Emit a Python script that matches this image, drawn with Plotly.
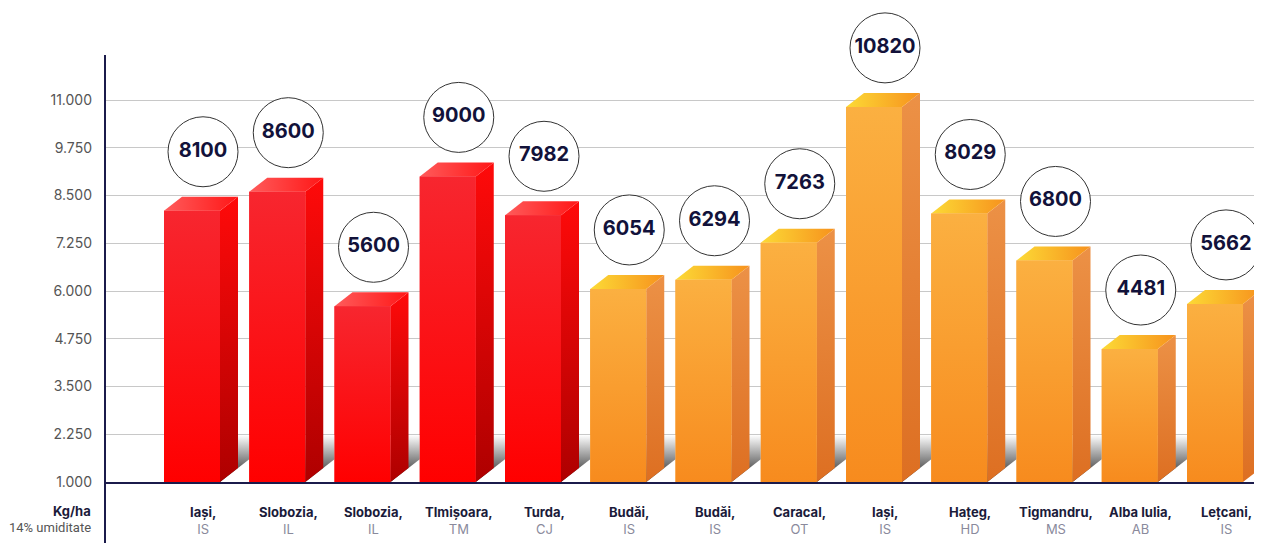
import plotly.graph_objects as go

# ---------------- data ----------------
cities = ["Iași,", "Slobozia,", "Slobozia,", "TImișoara,", "Turda,", "Budăi,", "Budăi,",
          "Caracal,", "Iași,", "Hațeg,", "Tigmandru,", "Alba Iulia,", "Lețcani,"]
counties = ["IS", "IL", "IL", "TM", "CJ", "IS", "IS", "OT", "IS", "HD", "MS", "AB", "IS"]
yields = [8100, 8600, 5600, 9000, 7982, 6054, 6294, 7263, 10820, 8029, 6800, 4481, 5662]
groups = ["red"] * 5 + ["orange"] * 8
tick_vals = [1000, 2250, 3500, 4750, 6000, 7250, 8500, 9750, 11000]

# ---------------- geometry (pixel based, converted through the axis scale) -------------
W, H = 1262, 543
OFF = 8                      # page body margin offset
ML, MR, MT = 105 - OFF, OFF, 0
axis_px = 482 - OFF          # x-axis position inside the figure
MB = H - axis_px
plot_h = axis_px - MT
plot_w = W - ML - MR
px_per_cat = 85.25
first_center_px = 192 - 105
px_per_unit = 0.0382
y0 = 1000
y_top = y0 + plot_h / px_per_unit
x_lo = -first_center_px / px_per_cat
x_hi = x_lo + plot_w / px_per_cat

bar_w = 56 / px_per_cat
dx = 18 / px_per_cat
dy = 14 / px_per_unit
label_shift = 11 / px_per_cat
circle_off = 59 / px_per_unit
shadow_top = 2230

palette = {
    "red": dict(front=("#FF0000", "#F7262F"), side=("#AE0000", "#FF0A0A"),
                top=("#FF5B5B", "#FF1717"), bar="#F91A24"),
    "orange": dict(front=("#F78B1E", "#FBB041"), side=("#DD6F22", "#EC9146"),
                   top=("#FCDA36", "#F7921D"), bar="#F9A030"),
}

fig = go.Figure()
xs = list(range(len(yields)))

# base bars (front faces)
fig.add_trace(go.Bar(x=xs, y=[v - y0 for v in yields], base=y0, width=bar_w,
                     marker=dict(color=[palette[g]["bar"] for g in groups], line=dict(width=0)),
                     hoverinfo="skip", showlegend=False))

def poly(xp, yp, colors, gtype):
    fig.add_trace(go.Scatter(
        x=xp + [xp[0]], y=yp + [yp[0]], mode="lines", fill="toself",
        line=dict(width=0), hoverinfo="skip", showlegend=False,
        fillgradient=dict(type=gtype, colorscale=[[0, colors[0]], [1, colors[1]]])))

# shadows between bars
for i in range(len(yields) - 1):
    xr = i + bar_w / 2
    xn = (i + 1) - bar_w / 2
    ydiag = y0 + (xn - xr) * dy / dx
    poly([xr, xn, xn, xr], [y0, ydiag, shadow_top, shadow_top],
         ("#1c1c1c", "#ffffff"), "vertical")

# side, top and front gradient faces
for i, (v, g) in enumerate(zip(yields, groups)):
    p = palette[g]
    xl = i - bar_w / 2
    xr = i + bar_w / 2
    poly([xr, xr, xr + dx, xr + dx], [y0, v, v + dy, y0 + dy], p["side"], "vertical")
    poly([xl, xl + dx, xr + dx, xr], [v, v + dy, v + dy, v], p["top"], "horizontal")
    poly([xl, xl, xr, xr], [y0, v, v, y0], p["front"], "vertical")

# value circles
fig.add_trace(go.Scatter(
    x=[i + label_shift for i in xs], y=[v + circle_off for v in yields],
    mode="markers+text", text=[str(v) for v in yields], textposition="middle center",
    textfont=dict(family="Inter, Roboto, sans-serif", size=20, color="#12123A", weight="bold"),
    marker=dict(size=70, color="white", line=dict(color="#333333", width=1)),
    cliponaxis=False, hoverinfo="skip", showlegend=False))

# category labels
for i, (c, k) in enumerate(zip(cities, counties)):
    fig.add_annotation(
        x=i + label_shift, y=y0, xref="x", yref="y", yanchor="top", yshift=-20,
        showarrow=False, align="center",
        text=f"<b>{c}</b><br><span style='color:#8A8A9C'>{k}</span>",
        font=dict(family="Inter, Roboto, sans-serif", size=13, color="#1B1B3A"))

# unit labels
fig.add_annotation(x=0, y=0, xref="paper", yref="paper", xanchor="right", yanchor="middle",
                   xshift=-12, yshift=-29, showarrow=False, text="<b>Kg/ha</b>",
                   font=dict(family="Inter, Roboto, sans-serif", size=13, color="#1B1B3A"))
fig.add_annotation(x=0, y=0, xref="paper", yref="paper", xanchor="right", yanchor="middle",
                   xshift=-12, yshift=-45, showarrow=False, text="14% umiditate",
                   font=dict(family="Roboto, sans-serif", size=13, color="#555555"))

# vertical axis line
fig.add_shape(type="line", xref="paper", yref="paper", x0=0, x1=0,
              y0=-MB / plot_h, y1=(plot_h - (55 - OFF)) / plot_h,
              line=dict(color="#1B1B4B", width=2))

fig.update_layout(
    width=W, height=H, margin=dict(l=ML, r=MR, t=MT, b=MB, pad=0),
    plot_bgcolor="white", paper_bgcolor="white", separators=",.",
    barmode="overlay",
    xaxis=dict(range=[x_lo, x_hi], showticklabels=False, showgrid=False, zeroline=False,
               showline=True, linecolor="#1B1B4B", linewidth=2, fixedrange=True),
    yaxis=dict(range=[y0, y_top], tickvals=tick_vals, tickformat=",d",
               showgrid=True, gridcolor="#C8C8C8", gridwidth=1, zeroline=False,
               showline=False, ticks="", ticklabelstandoff=12,
               tickfont=dict(family="Inter, Roboto, sans-serif", size=14, color="#555555")),
)

fig.write_html("out.html")
